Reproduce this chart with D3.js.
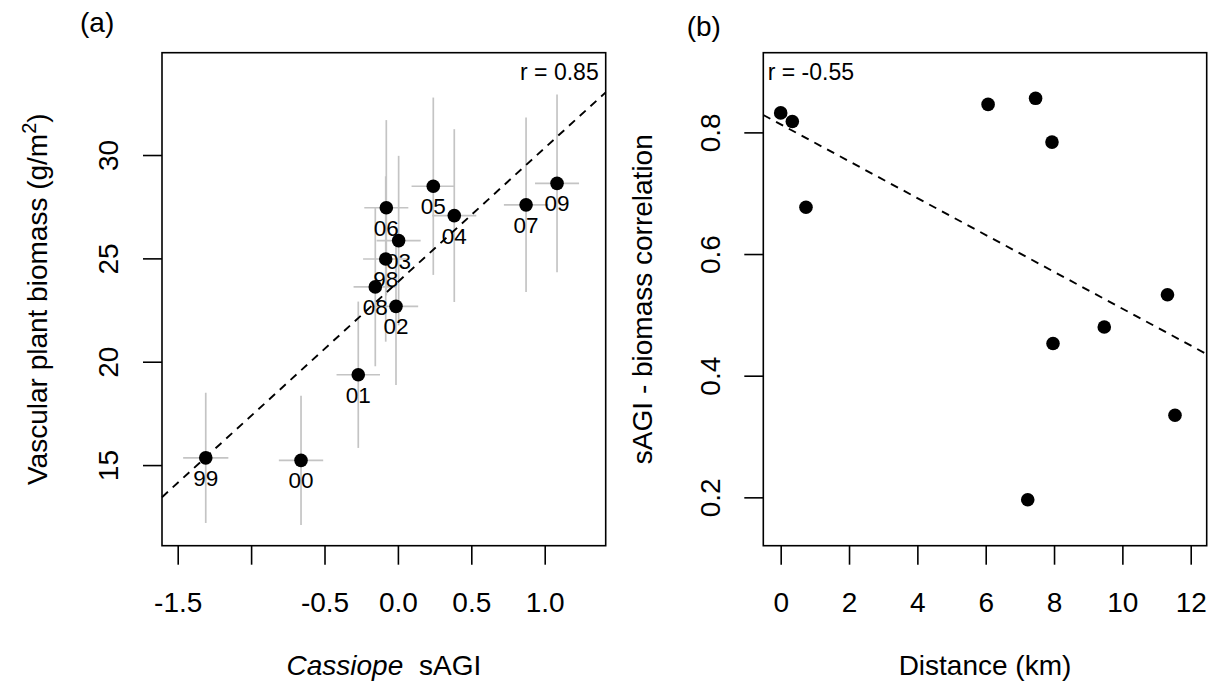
<!DOCTYPE html>
<meta charset="utf-8">
<style>
body { margin: 0; background: #fff; }
svg text { font-family: "Liberation Sans", Arial, sans-serif; fill: #000; }
.axis .domain { display: none; }
.axis line { stroke: #000; stroke-width: 1.6; }
</style>
<svg width="1214" height="691" class="fig"></svg>
<script src="https://d3js.org/d3.v7.min.js"></script>
<script>

// panel (a): Cassiope sAGI vs vascular plant biomass, one point per year
var years   = ["98", "99", "00", "01", "02", "03", "04", "05", "06", "07", "08", "09"];
var sagi    = [-0.083, -1.309, -0.660, -0.270, -0.013, 0.005, 0.384, 0.241, -0.079, 0.873, -0.154, 1.084];
var biomass = [24.97, 15.35, 15.23, 19.37, 22.68, 25.86, 27.07, 28.49, 27.45, 27.59, 23.62, 28.63];
var sagiErr = [0.154, 0.154, 0.151, 0.148, 0.151, 0.150, 0.150, 0.148, 0.150, 0.151, 0.148, 0.150];
var bioErr  = [4.00, 3.15, 3.13, 3.54, 3.80, 4.10, 4.18, 4.29, 4.24, 4.22, 3.84, 4.30];
var fitA = {intercept: 23.86, slope: 6.48};
var xTicksA = [-1.5, -1.0, -0.5, 0.0, 0.5, 1.0];
var xLabelsA = ["-1.5", "", "-0.5", "0.0", "0.5", "1.0"];
var yTicksA = [15, 20, 25, 30];

// panel (b): distance vs sAGI-biomass correlation
var distance = [0, 0.34, 0.74, 6.07, 7.46, 7.94, 11.32, 9.47, 7.97, 11.54, 7.23];
var corr     = [0.832, 0.818, 0.677, 0.846, 0.856, 0.784, 0.533, 0.480, 0.453, 0.335, 0.196];
var fitB = {intercept: 0.8132, slope: -0.0303};
var xTicksB = [0, 2, 4, 6, 8, 10, 12];
var yTicksB = [0.2, 0.4, 0.6, 0.8];

var svg = d3.select(".fig");
var top_ = 52.7, bottom = 545.7;

function box(g, w, h) {
  g.append("rect")
      .attr("width", w).attr("height", h)
      .attr("fill", "none").attr("stroke", "#000").attr("stroke-width", 1.6);
}

function axes(g, x, y, h, xt, xl, yt, yfmt) {
  var gx = g.append("g")
      .attr("class", "axis")
      .attr("transform", "translate(0," + h + ")")
      .call(d3.axisBottom(x).tickValues(xt).tickSize(19)
        .tickFormat(function(d, i) { return xl[i]; }));
  gx.selectAll("text")
      .attr("y", 66).attr("dy", null)
      .attr("font-size", 28);

  var gy = g.append("g")
      .attr("class", "axis")
      .call(d3.axisLeft(y).tickValues(yt).tickSize(19).tickFormat(yfmt));
  gy.selectAll("text")
      .attr("x", 0).attr("y", 0).attr("dy", null)
      .attr("text-anchor", "middle")
      .attr("font-size", 28)
      .attr("transform", "translate(-43.7,0) rotate(-90)");
}

// ---- panel a ----
var ga = svg.append("g").attr("transform", "translate(162," + top_ + ")"),
    wA = 605.7 - 162,
    h = bottom - top_;

var xa = d3.scaleLinear().domain([-1.607, 1.4155]).range([0, wA]);
var ya = d3.scaleLinear().domain([11.1, 34.95]).range([h, 0]);

var ptsA = years.map(function(d, i) {
  return {lab: d, x: sagi[i], y: biomass[i], ex: sagiErr[i], ey: bioErr[i]};
});

ga.append("g").selectAll("line.v")
    .data(ptsA)
  .enter().append("line")
    .attr("x1", function(d) { return xa(d.x); })
    .attr("x2", function(d) { return xa(d.x); })
    .attr("y1", function(d) { return ya(d.y - d.ey); })
    .attr("y2", function(d) { return ya(d.y + d.ey); })
    .attr("stroke", "#c4c4c4").attr("stroke-width", 1.7);

ga.append("g").selectAll("line.h")
    .data(ptsA)
  .enter().append("line")
    .attr("x1", function(d) { return xa(d.x - d.ex); })
    .attr("x2", function(d) { return xa(d.x + d.ex); })
    .attr("y1", function(d) { return ya(d.y); })
    .attr("y2", function(d) { return ya(d.y); })
    .attr("stroke", "#c4c4c4").attr("stroke-width", 1.7);

var dA = xa.domain();
ga.append("line")
    .attr("x1", xa(dA[0])).attr("y1", ya(fitA.intercept + fitA.slope * dA[0]))
    .attr("x2", xa(dA[1])).attr("y2", ya(fitA.intercept + fitA.slope * dA[1]))
    .attr("stroke", "#000").attr("stroke-width", 1.9)
    .attr("stroke-dasharray", "8,6.5");

ga.append("g").selectAll("circle")
    .data(ptsA)
  .enter().append("circle")
    .attr("cx", function(d) { return xa(d.x); })
    .attr("cy", function(d) { return ya(d.y); })
    .attr("r", 6.8)
    .attr("fill", "#000");

ga.append("g").selectAll("text")
    .data(ptsA)
  .enter().append("text")
    .attr("x", function(d) { return xa(d.x); })
    .attr("y", function(d) { return ya(d.y) + 28; })
    .attr("text-anchor", "middle")
    .attr("font-size", 22.5)
    .text(function(d) { return d.lab; });

box(ga, wA, h);
axes(ga, xa, ya, h, xTicksA, xLabelsA, yTicksA, d3.format("d"));

ga.append("text")
    .attr("x", wA - 7).attr("y", 80 - top_)
    .attr("text-anchor", "end")
    .attr("font-size", 23)
    .text("r = 0.85");

// axis titles a
var tya = svg.append("text")
    .attr("transform", "translate(47," + (top_ + h / 2) + ") rotate(-90)")
    .attr("text-anchor", "middle")
    .attr("font-size", 28);
tya.append("tspan").text("Vascular plant biomass (g/m");
tya.append("tspan").attr("font-size", 20).attr("dy", -11).text("2");
tya.append("tspan").attr("dy", 11).text(")");

var txa = svg.append("text")
    .attr("x", 162 + wA / 2).attr("y", 675)
    .attr("text-anchor", "middle")
    .attr("font-size", 28);
txa.append("tspan").attr("font-style", "italic").text("Cassiope");
txa.append("tspan").attr("dx", 8).text(" sAGI");

svg.append("text")
    .attr("x", 80).attr("y", 32)
    .attr("font-size", 28)
    .text("(a)");

// ---- panel b ----
var gb = svg.append("g").attr("transform", "translate(763.3," + top_ + ")"),
    wB = 1206.7 - 763.3;

var xb = d3.scaleLinear().domain([-0.509, 12.468]).range([0, wB]);
var yb = d3.scaleLinear().domain([0.1205, 0.931]).range([h, 0]);

var dB = xb.domain();
gb.append("line")
    .attr("x1", xb(dB[0])).attr("y1", yb(fitB.intercept + fitB.slope * dB[0]))
    .attr("x2", xb(dB[1])).attr("y2", yb(fitB.intercept + fitB.slope * dB[1]))
    .attr("stroke", "#000").attr("stroke-width", 1.9)
    .attr("stroke-dasharray", "8,6.5");

gb.append("g").selectAll("circle")
    .data(distance)
  .enter().append("circle")
    .attr("cx", function(d) { return xb(d); })
    .attr("cy", function(d, i) { return yb(corr[i]); })
    .attr("r", 6.8)
    .attr("fill", "#000");

box(gb, wB, h);
axes(gb, xb, yb, h, xTicksB, xTicksB.map(String), yTicksB, d3.format(".1f"));

gb.append("text")
    .attr("x", 4.4).attr("y", 80 - top_)
    .attr("font-size", 23)
    .text("r = -0.55");

svg.append("text")
    .attr("transform", "translate(652," + (top_ + h / 2) + ") rotate(-90)")
    .attr("text-anchor", "middle")
    .attr("font-size", 28)
    .text("sAGI - biomass correlation");

svg.append("text")
    .attr("x", 763.3 + wB / 2).attr("y", 675)
    .attr("text-anchor", "middle")
    .attr("font-size", 28)
    .text("Distance (km)");

svg.append("text")
    .attr("x", 686.7).attr("y", 36)
    .attr("font-size", 28)
    .text("(b)");

</script>
